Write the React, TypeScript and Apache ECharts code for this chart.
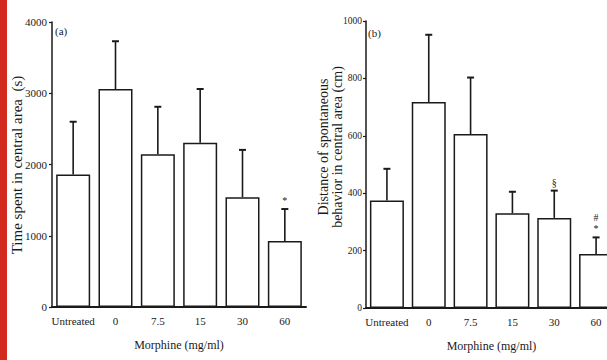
import React, { useEffect, useRef } from "react";
import * as echarts from "echarts";

const categories = ["Untreated", "0", "7.5", "15", "30", "60"];
const timeMean = [1860, 3060, 2145, 2305, 1540, 925];
const timeErrTop = [2600, 3730, 2810, 3060, 2205, 1375];
const timeNotes = ["", "", "", "", "", "*"];
const distMean = [375, 718, 606, 330, 314, 188];
const distErrTop = [485, 952, 803, 405, 409, 246];
const distNotes = ["", "", "", "", "§", "#\n*"];
const timeTicks = { min: 0, max: 4000, interval: 1000 };
const distTicks = { min: 0, max: 1000, interval: 200 };

const FONT = "Liberation Serif";
const INK = "#1a1a1a";

function errorSeries(idx: number, means: number[], tops: number[], notes: string[]) {
  return {
    type: "custom",
    xAxisIndex: idx,
    yAxisIndex: idx,
    z: 5,
    data: means.map((m, i) => [i, m, tops[i], notes[i]]),
    renderItem: (params: any, api: any) => {
      const i = api.value(0);
      const base = api.coord([i, api.value(1)]);
      const top = api.coord([i, api.value(2)]);
      const note = notes[i];
      const children: any[] = [
        { type: "line", shape: { x1: base[0], y1: base[1], x2: top[0], y2: top[1] }, style: { stroke: INK, lineWidth: 1.6 } },
        { type: "line", shape: { x1: top[0] - 3.5, y1: top[1], x2: top[0] + 3.5, y2: top[1] }, style: { stroke: INK, lineWidth: 2 } },
      ];
      if (note) {
        children.push({
          type: "text",
          style: {
            text: note, x: top[0], y: top[1] - 3, align: "center", verticalAlign: "bottom",
            fontFamily: FONT, fontSize: 10, lineHeight: 11, fill: INK,
          },
        });
      }
      return { type: "group", children };
    },
  };
}

function barSeries(idx: number, means: number[]) {
  return {
    type: "bar",
    xAxisIndex: idx,
    yAxisIndex: idx,
    data: means,
    barWidth: 34,
    itemStyle: { color: "#ffffff", borderColor: INK, borderWidth: 1.5 },
  };
}

function xAxis(idx: number) {
  return {
    type: "category",
    gridIndex: idx,
    data: categories,
    axisLine: { lineStyle: { color: INK, width: 2 } },
    axisTick: { show: false },
    axisLabel: { color: INK, fontFamily: FONT, fontSize: 11, margin: 8, interval: 0 },
    name: "Morphine (mg/ml)",
    nameLocation: "middle",
    nameGap: 32,
    nameTextStyle: { color: INK, fontFamily: FONT, fontSize: 12 },
  };
}

function yAxis(idx: number, t: any, fontSize: number, margin: number) {
  return {
    type: "value",
    gridIndex: idx,
    min: t.min,
    max: t.max,
    interval: t.interval,
    splitLine: { show: false },
    axisLine: { show: true, lineStyle: { color: INK, width: 1.5 } },
    axisTick: { show: true, length: 3, lineStyle: { color: INK, width: 1.2 } },
    axisLabel: { color: INK, fontFamily: FONT, fontSize, margin, formatter: (v: number) => String(v) },
  };
}

export default function App() {
  const ref = useRef<HTMLDivElement>(null);
  useEffect(() => {
    document.body.style.overflow = "hidden";
    const chart = echarts.init(ref.current!, undefined, { renderer: "svg" });
    chart.setOption({
      animation: false,
      backgroundColor: "#ffffff",
      grid: [
        { left: 52, top: 22, width: 254, height: 285 },
        { left: 366, top: 21, width: 251, height: 287 },
      ],
      xAxis: [xAxis(0), xAxis(1)],
      yAxis: [yAxis(0, timeTicks, 11, 5), yAxis(1, distTicks, 9.5, 4)],
      series: [
        barSeries(0, timeMean),
        errorSeries(0, timeMean, timeErrTop, timeNotes),
        barSeries(1, distMean),
        errorSeries(1, distMean, distErrTop, distNotes),
      ],
      graphic: [
        { type: "rect", left: 0, top: 0, shape: { width: 7, height: 360 }, style: { fill: "#d22a1f" } },
        {
          type: "text", x: 17, y: 165, rotation: Math.PI / 2,
          style: { text: "Time spent in central area  (s)", align: "center", verticalAlign: "middle", fontFamily: FONT, fontSize: 15, fill: INK },
        },
        {
          type: "text", x: 330, y: 147, rotation: Math.PI / 2,
          style: { text: "Distance of spontaneous\nbehavior in central area (cm)", align: "center", verticalAlign: "middle", fontFamily: FONT, fontSize: 14, lineHeight: 14, fill: INK },
        },
        { type: "text", x: 55, y: 31, style: { text: "(a)", verticalAlign: "middle", fontFamily: FONT, fontSize: 11, fill: INK } },
        { type: "text", x: 368, y: 33, style: { text: "(b)", verticalAlign: "middle", fontFamily: FONT, fontSize: 11, fill: INK } },
      ],
    });
    return () => chart.dispose();
  }, []);
  return <div ref={ref} style={{ position: "fixed", left: 0, top: 0, width: 640, height: 360 }} />;
}
